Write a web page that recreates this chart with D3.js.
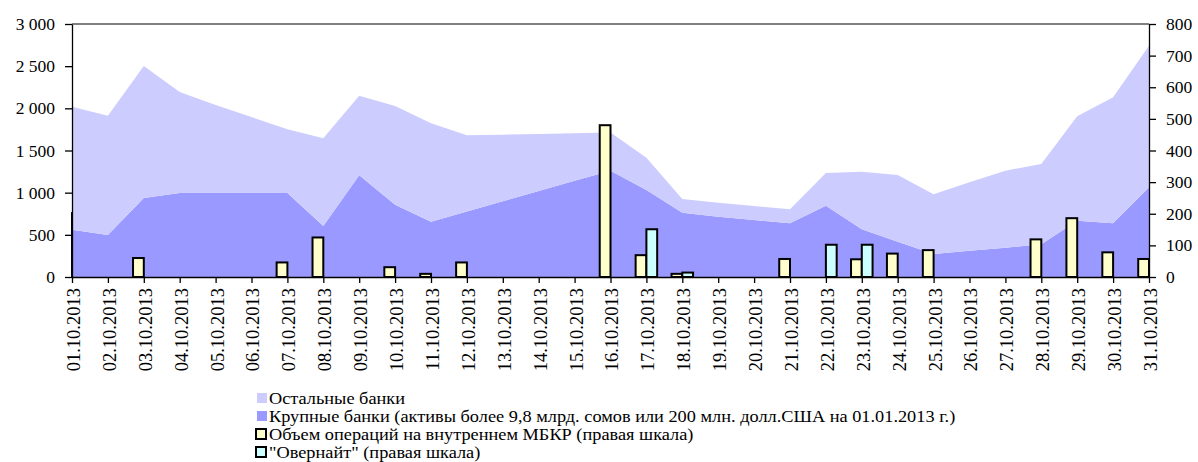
<!DOCTYPE html>
<html>
<head>
<meta charset="utf-8">
<script src="https://cdn.jsdelivr.net/npm/d3@7"></script>
<style>
  body { margin: 0; background: #fff; }
</style>
</head>
<body>
<svg id="chart" width="1198" height="462"></svg>
<script>
const dates = ["01.10.2013", "02.10.2013", "03.10.2013", "04.10.2013", "05.10.2013", "06.10.2013",
    "07.10.2013", "08.10.2013", "09.10.2013", "10.10.2013", "11.10.2013", "12.10.2013", "13.10.2013",
    "14.10.2013", "15.10.2013", "16.10.2013", "17.10.2013", "18.10.2013", "19.10.2013", "20.10.2013",
    "21.10.2013", "22.10.2013", "23.10.2013", "24.10.2013", "25.10.2013", "26.10.2013", "27.10.2013",
    "28.10.2013", "29.10.2013", "30.10.2013", "31.10.2013"];

// left scale, stacked areas
const largeBanks = [561, 498, 937, 996, 996, 996, 996, 605, 1206, 858, 656, 777, 898, 1019, 1140, 1261,
    1032, 763, 715, 676, 636, 846, 565, 419, 273, 312, 348, 388, 668, 636, 1063];
const otherBanks = [1458, 1415, 1565, 1198, 1044, 901, 755, 1040, 944, 1170, 1166, 903, 790, 678, 565, 453,
    383, 162, 166, 166, 167, 387, 684, 791, 707, 811, 913, 952, 1237, 1495, 1680];

// right scale, bars
const mbkrVolume = [202, 0, 60, 0, 0, 0, 46, 125, 0, 31, 10, 46, 0, 0, 0, 480,
    69, 10, 0, 0, 57, 0, 56, 74, 85, 0, 0, 119, 186, 78, 57];
const overnight = [0, 0, 0, 0, 0, 0, 0, 0, 0, 0, 0, 0, 0, 0, 0, 0,
    151, 14, 0, 0, 0, 102, 102, 0, 0, 0, 0, 0, 0, 0, 0];

const leftTicks = [0, 500, 1000, 1500, 2000, 2500, 3000];
const rightTicks = [0, 100, 200, 300, 400, 500, 600, 700, 800];

const legendItems = [
    {label: "Остальные банки", fill: "#ccccff", stroke: null},
    {label: "Крупные банки (активы более 9,8 млрд. сомов или 200 млн. долл.США на 01.01.2013 г.)", fill: "#9999ff", stroke: null},
    {label: "Объем операций на внутреннем МБКР (правая шкала)", fill: "#ffffcc", stroke: "#000"},
    {label: "\"Овернайт\" (правая шкала)", fill: "#ccffff", stroke: "#000"}
];

const serif = "'Liberation Serif', 'Times New Roman', 'DejaVu Serif', serif";
const plot = {left: 72, right: 1149, top: 24, bottom: 277};
const svg = d3.select("#chart");

const x = d3.scalePoint().domain(dates).range([plot.left, plot.right]);
const yLeft = d3.scaleLinear().domain([0, 3000]).range([plot.bottom, plot.top]);
const yRight = d3.scaleLinear().domain([0, 800]).range([plot.bottom, plot.top]);

// stacked areas
const rows = dates.map((d, i) => ({date: d, large: largeBanks[i], other: otherBanks[i]}));
const series = d3.stack().keys(["large", "other"])(rows);
const areaColors = {large: "#9999ff", other: "#ccccff"};

const area = d3.area()
    .x(d => x(d.data.date))
    .y0(d => yLeft(d[0]))
    .y1(d => yLeft(d[1]));

svg.append("g")
    .selectAll("path")
    .data(series)
    .enter().append("path")
    .attr("d", area)
    .attr("fill", d => areaColors[d.key]);

// bars, clipped to the plot so the first one shows only its edge
svg.append("clipPath")
    .attr("id", "plot-clip")
    .append("rect")
    .attr("x", plot.left - 1)
    .attr("y", 0)
    .attr("width", plot.right - plot.left + 2)
    .attr("height", plot.bottom + 2);

const barW = x.step() * 0.3;
const bars = [];
dates.forEach((d, i) => {
    if (mbkrVolume[i] > 0) bars.push({date: d, value: mbkrVolume[i], offset: -barW, fill: "#ffffcc"});
    if (overnight[i] > 0) bars.push({date: d, value: overnight[i], offset: 0, fill: "#ccffff"});
});

svg.append("g")
    .attr("clip-path", "url(#plot-clip)")
    .selectAll("rect")
    .data(bars)
    .enter().append("rect")
    .attr("x", d => x(d.date) + d.offset)
    .attr("y", d => yRight(d.value))
    .attr("width", barW)
    .attr("height", d => yRight(0) - yRight(d.value))
    .attr("fill", d => d.fill)
    .attr("stroke", "#000")
    .attr("stroke-width", 2);

// top border of plot
svg.append("line")
    .attr("x1", plot.left).attr("x2", plot.right)
    .attr("y1", plot.top).attr("y2", plot.top)
    .attr("stroke", "#808080")
    .attr("stroke-width", 2);

// axes
const fmt = d => d3.format(",")(d).replace(/,/g, " ");

const leftAxis = svg.append("g")
    .attr("transform", `translate(${plot.left},0)`)
    .call(d3.axisLeft(yLeft).tickValues(leftTicks).tickFormat(fmt).tickSize(7).tickSizeOuter(0).tickPadding(10));

const rightAxis = svg.append("g")
    .attr("transform", `translate(${plot.right},0)`)
    .call(d3.axisRight(yRight).tickValues(rightTicks).tickSize(7).tickSizeOuter(0).tickPadding(10));

const bottomAxis = svg.append("g")
    .attr("transform", `translate(0,${plot.bottom})`)
    .call(d3.axisBottom(x).tickSize(6).tickSizeOuter(0));

bottomAxis.selectAll("text")
    .attr("transform", "rotate(-90)")
    .attr("text-anchor", "end")
    .attr("x", -11)
    .attr("y", 1)
    .attr("dy", "0.35em")
    .style("font-size", "18.5px");

[leftAxis, rightAxis].forEach(g => g.selectAll("text").style("font-size", "17.5px"));
[leftAxis, rightAxis, bottomAxis].forEach(g => {
    g.attr("font-family", null).attr("font-size", null);
    g.selectAll("text").style("font-family", serif).attr("fill", "#000");
    g.selectAll("path.domain").attr("stroke", "#000").attr("stroke-width", 1.3);
    g.selectAll(".tick line").attr("stroke", "#000").attr("stroke-width", 1.3);
});

// legend
const legendStretch = 1.11;
const legend = svg.append("g")
    .selectAll("g")
    .data(legendItems)
    .enter().append("g")
    .attr("transform", (_, i) => `translate(257,${398 + i * 18})`);

legend.append("rect")
    .attr("x", d => d.stroke ? -1 : 0)
    .attr("y", -5)
    .attr("width", 10)
    .attr("height", 10)
    .attr("fill", d => d.fill)
    .attr("stroke", d => d.stroke)
    .attr("stroke-width", d => d.stroke ? 2 : 0);

legend.append("text")
    .attr("transform", `scale(${legendStretch},1)`)
    .attr("x", 12 / legendStretch)
    .attr("dy", "0.35em")
    .style("font-family", serif)
    .style("font-size", "16.5px")
    .text(d => d.label);
</script>
</body>
</html>
